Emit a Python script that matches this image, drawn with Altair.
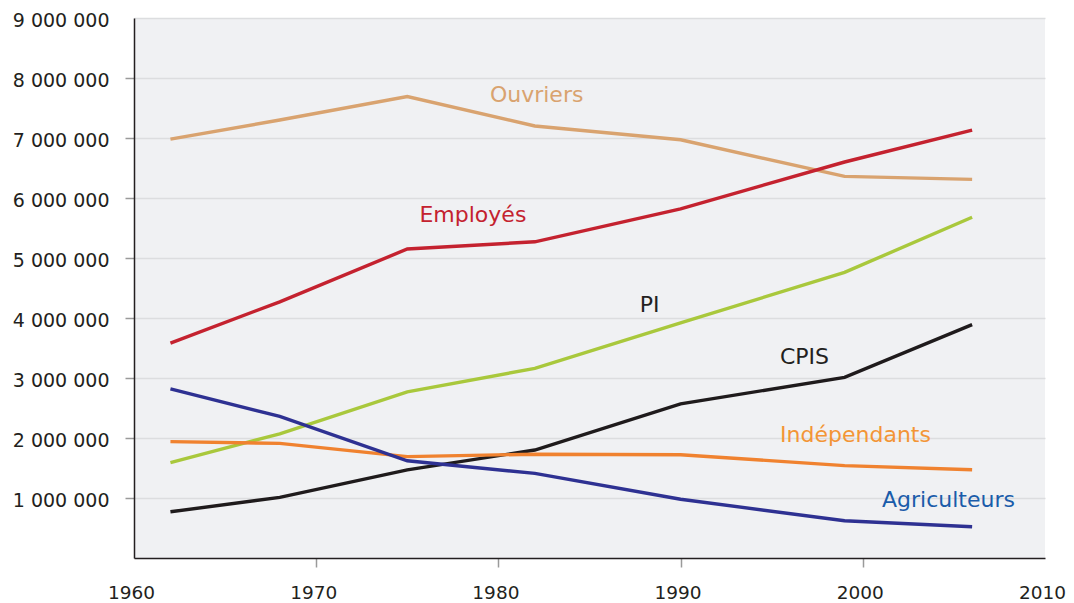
import altair as alt
import pandas as pd

# Census years
years = [1962, 1968, 1975, 1982, 1990, 1999, 2006]

# Workforce by socio-professional category
ouvriers = [6980000, 7300000, 7690000, 7200000, 6970000, 6360000, 6310000]
employes = [3580000, 4270000, 5150000, 5270000, 5820000, 6600000, 7130000]
pi = [1590000, 2070000, 2770000, 3160000, 3920000, 4760000, 5680000]
cpis = [770000, 1010000, 1470000, 1800000, 2570000, 3010000, 3890000]
independants = [1940000, 1910000, 1690000, 1730000, 1720000, 1540000, 1470000]
agriculteurs = [2820000, 2360000, 1620000, 1410000, 980000, 620000, 520000]

series_names = ["Ouvriers", "Employés", "PI", "CPIS", "Indépendants", "Agriculteurs"]
series_values = [ouvriers, employes, pi, cpis, independants, agriculteurs]
line_colors = ["#d9a36f", "#c4222f", "#a9c83c", "#1f1b1c", "#f0822f", "#2e3192"]

# Series annotation labels (year, value) and label colours
label_years = [1982.1, 1978.6, 1988.3, 1996.8, 1999.6, 2004.7]
label_values = [7720000, 5720000, 4220000, 3350000, 2050000, 970000]
label_colors = ["#d9a36f", "#c4222f", "#231f20", "#231f20", "#f39536", "#1a5caa"]

x_ticks = [1960, 1970, 1980, 1990, 2000, 2010]
y_ticks = [1000000, 2000000, 3000000, 4000000, 5000000, 6000000, 7000000, 8000000, 9000000]

rows = []
for name, vals in zip(series_names, series_values):
    for yr, v in zip(years, vals):
        rows.append({"year": yr, "value": v, "cat": name})
df = pd.DataFrame(rows)

labels = pd.DataFrame({
    "year": label_years,
    "value": label_values,
    "cat": series_names,
    "color": label_colors,
})

FONT = "DejaVu Sans"

x_enc = alt.X(
    "year:Q",
    scale=alt.Scale(domain=[1960, 2010], nice=False, zero=False),
    axis=alt.Axis(
        values=x_ticks, format="d", title=None, grid=False,
        tickSize=9, tickColor="#9a9a9a", tickWidth=1.5,
        tickOpacity={"expr": "(datum.value == 1960 || datum.value == 2010) ? 0 : 1"},
        domainColor="#231f20", domainWidth=1.5,
        labelFontSize=18.5, labelFont=FONT, labelColor="#231f20",
        labelPadding=16, labelFlush=False, labelOffset=-3,
    ),
)
y_enc = alt.Y(
    "value:Q",
    scale=alt.Scale(domain=[0, 9000000], nice=False),
    axis=alt.Axis(
        values=y_ticks, title=None, grid=True,
        gridColor="#dcdddf", gridWidth=1.5,
        tickSize=9, tickColor="#9a9a9a", tickWidth=1.5,
        tickOpacity={"expr": "datum.value == 9000000 ? 0 : 1"},
        domainColor="#231f20", domainWidth=1.5,
        labelFontSize=19, labelFont=FONT, labelColor="#231f20",
        labelPadding=16, labelOffset=2,
        labelExpr="replace(replace(format(datum.value, ','), ',', ' '), ',', ' ')",
    ),
)

lines = alt.Chart(df).mark_line(strokeWidth=3.4).encode(
    x=x_enc,
    y=y_enc,
    color=alt.Color("cat:N", scale=alt.Scale(domain=series_names, range=line_colors), legend=None),
)

texts = alt.Chart(labels).mark_text(
    font=FONT, fontSize=22, align="center", baseline="middle"
).encode(
    x="year:Q",
    y="value:Q",
    text="cat:N",
    color=alt.Color("color:N", scale=None),
)

chart = alt.layer(lines, texts).properties(
    width=911,
    height=540,
    autosize=alt.AutoSizeParams(type="none"),
    padding={"left": 126, "top": 10, "right": 21, "bottom": 45},
    background="white",
).configure_view(
    fill="#f0f1f3", stroke=None
)

chart.save("out.html", embed_options={"renderer": "svg", "actions": False})
